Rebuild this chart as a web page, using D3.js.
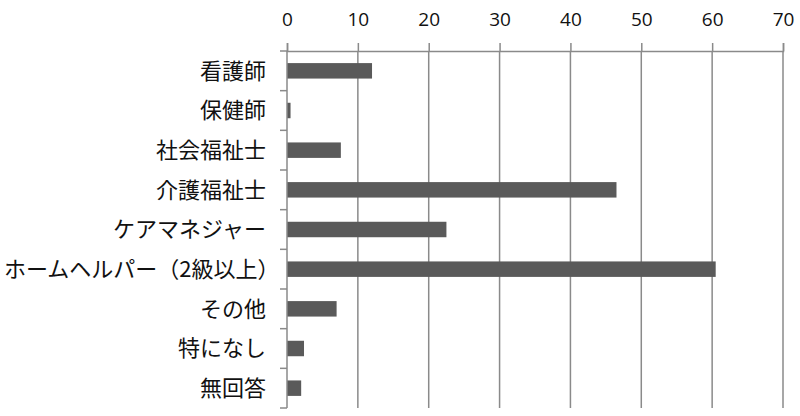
<!DOCTYPE html>
<html>
<head>
<meta charset="utf-8">
<script src="https://cdn.jsdelivr.net/npm/d3@7"></script>
<style>
body { margin: 0; background: #fff; }
</style>
</head>
<body>
<script>
// categories and values
let categories = ["看護師", "保健師", "社会福祉士", "介護福祉士", "ケアマネジャー",
	"ホームヘルパー（2級以上）", "その他", "特になし", "無回答"];
let values = [12, 0.5, 7.6, 46.5, 22.5, 60.5, 7.0, 2.4, 2.0];
let xTicks = [0, 10, 20, 30, 40, 50, 60, 70];

let margin = {top: 51, right: 17, bottom: 8, left: 287};
let width = 800 - margin.left - margin.right;
let height = 416 - margin.top - margin.bottom;

let svg = d3.select("body").append("svg")
		.attr("width", 800)
		.attr("height", 416)
	.append("g")
		.attr("transform", "translate(" + margin.left + "," + margin.top + ")");

let xScale = d3.scaleLinear().domain([0, 70]).range([0, width]);
let yScale = d3.scaleBand().domain(categories).range([0, height]).paddingInner(0.61).paddingOuter(0.305);

let gridColor = "#8a8a8a";

// vertical gridlines
svg.selectAll(".grid")
		.data(xTicks.slice(1))
	.enter().append("line")
		.attr("class", "grid")
		.attr("x1", d => xScale(d))
		.attr("x2", d => xScale(d))
		.attr("y1", 0)
		.attr("y2", height)
		.attr("stroke", gridColor)
		.attr("stroke-width", 1.5);

// bars
svg.selectAll(".bar")
		.data(values)
	.enter().append("rect")
		.attr("class", "bar")
		.attr("x", xScale(0))
		.attr("y", (d, i) => yScale(categories[i]))
		.attr("width", d => xScale(d) - xScale(0))
		.attr("height", yScale.bandwidth())
		.attr("fill", "#5a5a5a");

// top axis
let xAxis = svg.append("g")
	.call(d3.axisTop(xScale).tickValues(xTicks).tickSize(8).tickPadding(17));
xAxis.select(".domain").attr("stroke", gridColor).attr("stroke-width", 1.5);
xAxis.selectAll(".tick line").attr("stroke", gridColor).attr("stroke-width", 1.5);
xAxis.selectAll("text")
	.attr("font-family", "'Open Sans', 'Liberation Sans', sans-serif")
	.attr("font-size", 19)
	.attr("fill", "#111");

// left axis: ticks on the category boundaries
let bounds = d3.range(categories.length + 1).map(i => i * yScale.step());
svg.selectAll(".ytick")
		.data(bounds)
	.enter().append("line")
		.attr("class", "ytick")
		.attr("x1", -7)
		.attr("x2", 0)
		.attr("y1", d => d)
		.attr("y2", d => d)
		.attr("stroke", gridColor)
		.attr("stroke-width", 1.5);
svg.append("line")
	.attr("x1", 0).attr("x2", 0)
	.attr("y1", 0).attr("y2", height)
	.attr("stroke", gridColor)
	.attr("stroke-width", 1.5);

let labels = svg.selectAll(".ylabel")
		.data(categories)
	.enter().append("text")
		.attr("class", "ylabel")
		.attr("x", -21)
		.attr("y", d => yScale(d) + yScale.bandwidth() / 2)
		.attr("dy", "0.36em")
		.attr("text-anchor", "end")
		.attr("font-family", "'Noto Sans CJK JP', sans-serif")
		.attr("font-size", 22)
		.attr("fill", "#111")
		.text(d => d);

// a label too long for the space is pushed to the left edge instead
labels.each(function() {
	let len = this.getComputedTextLength();
	if (len > margin.left - 21 - 4) {
		d3.select(this).attr("text-anchor", "start").attr("x", -margin.left + 4);
	}
});
</script>
</body>
</html>
